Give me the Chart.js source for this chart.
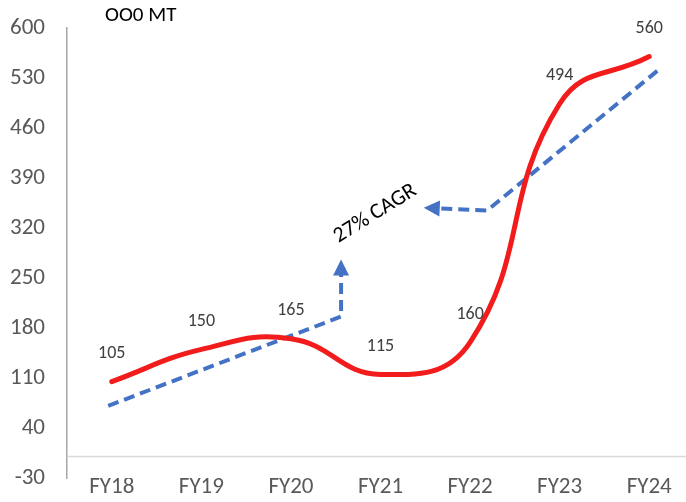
<!DOCTYPE html>
<html>
<head>
<meta charset="utf-8">
<script src="https://cdn.jsdelivr.net/npm/chart.js@4/dist/chart.umd.min.js"></script>
<style>
  html, body { margin: 0; padding: 0; background: #fff; overflow: hidden; }
  #wrap { width: 694px; height: 502px; }
</style>
</head>
<body>
<div id="wrap"><canvas id="c" width="694" height="502"></canvas></div>
<script>
// Production volume by fiscal year ('000 MT)
const categories = ['FY18', 'FY19', 'FY20', 'FY21', 'FY22', 'FY23', 'FY24'];
const volumes = [105, 150, 165, 115, 160, 494, 560];
const yTicks = [-30, 40, 110, 180, 250, 320, 390, 460, 530, 600];

// Dashed trend arrows pointing at the CAGR callout (x in category units, y in '000 MT);
// the last point of each is the base of its arrowhead
const trendArrowLow = [{ x: -0.04, y: 71 }, { x: 2.56, y: 196 }, { x: 2.56, y: 255 }];
const trendArrowHigh = [{ x: 6.09, y: 540 }, { x: 4.19, y: 344.5 }, { x: 3.65, y: 347.5 }];
const cagrLabel = { text: '27% CAGR', x: 2.94, y: 340, angle: -32 };
const unitTitle = 'OO0 MT';

const FONT = "Carlito, 'Liberation Sans', Arial, sans-serif";
const BLUE = '#4472c4';

const decorations = {
  id: 'decorations',
  beforeDatasetsDraw(chart) {
    // horizontal line at zero
    const { ctx, chartArea, scales } = chart;
    const y0 = scales.y.getPixelForValue(0);
    ctx.save();
    ctx.strokeStyle = '#d9d9d9';
    ctx.lineWidth = 1.5;
    ctx.beginPath();
    ctx.moveTo(chartArea.left, y0);
    ctx.lineTo(chartArea.right, y0);
    ctx.stroke();
    ctx.restore();
  },
  afterDatasetsDraw(chart) {
    const { ctx, scales } = chart;
    const y = scales.y, xa = scales.xa;

    // arrowheads continuing from the end of the trend arrows
    chart.data.datasets.forEach((ds, i) => {
      if (!ds.arrow) return;
      const pts = chart.getDatasetMeta(i).data;
      const a = pts[pts.length - 2], b = pts[pts.length - 1];
      const ang = Math.atan2(b.y - a.y, b.x - a.x);
      const len = 15, half = 8;
      ctx.save();
      ctx.translate(b.x, b.y);
      ctx.rotate(ang);
      ctx.fillStyle = BLUE;
      ctx.beginPath();
      ctx.moveTo(len, 0);
      ctx.lineTo(-1, -half);
      ctx.lineTo(-1, half);
      ctx.closePath();
      ctx.fill();
      ctx.restore();
    });

    // value labels above the volume line
    const meta = chart.getDatasetMeta(0);
    ctx.save();
    ctx.font = '18px ' + FONT;
    ctx.fillStyle = '#404040';
    ctx.textAlign = 'center';
    ctx.textBaseline = 'middle';
    meta.data.forEach((p, i) => {
      ctx.fillText(String(volumes[i]), p.x, p.y - 28);
    });
    ctx.restore();

    // CAGR callout
    ctx.save();
    ctx.translate(xa.getPixelForValue(cagrLabel.x), y.getPixelForValue(cagrLabel.y));
    ctx.rotate(cagrLabel.angle * Math.PI / 180);
    ctx.font = '22px ' + FONT;
    ctx.fillStyle = '#000';
    ctx.textAlign = 'center';
    ctx.textBaseline = 'middle';
    ctx.fillText(cagrLabel.text, 0, 0);
    ctx.restore();

    // unit title
    ctx.save();
    ctx.font = '21px ' + FONT;
    ctx.fillStyle = '#000';
    ctx.textAlign = 'left';
    ctx.textBaseline = 'middle';
    ctx.fillText(unitTitle, 105, 16);
    ctx.restore();
  }
};

new Chart(document.getElementById('c'), {
  type: 'line',
  data: {
    labels: categories,
    datasets: [
      {
        data: volumes,
        xAxisID: 'x',
        borderColor: '#f21c1c',
        borderWidth: 5,
        tension: 0.45,
        pointRadius: 0,
        borderCapStyle: 'round',
        fill: false,
        order: 0
      },
      {
        data: trendArrowLow,
        xAxisID: 'xa',
        arrow: true,
        borderColor: BLUE,
        borderWidth: 4,
        borderDash: [11, 6],
        tension: 0,
        pointRadius: 0,
        fill: false,
        order: 1
      },
      {
        data: trendArrowHigh,
        xAxisID: 'xa',
        arrow: true,
        borderColor: BLUE,
        borderWidth: 4,
        borderDash: [11, 6],
        tension: 0,
        pointRadius: 0,
        fill: false,
        order: 1
      }
    ]
  },
  options: {
    responsive: false,
    animation: false,
    clip: false,
    layout: { padding: { top: 28, right: 0, bottom: 0, left: 0 } },
    plugins: { legend: { display: false }, tooltip: { enabled: false } },
    scales: {
      x: {
        type: 'category',
        offset: true,
        grid: { display: false, drawTicks: false },
        border: { display: false },
        ticks: { color: '#595959', font: { family: FONT, size: 23 }, padding: -5, maxRotation: 0 },
        afterFit(s) { s.height = 24; }
      },
      xa: {
        type: 'linear',
        display: false,
        min: -0.5,
        max: 6.5
      },
      y: {
        min: -30,
        max: 600,
        afterBuildTicks(s) { s.ticks = yTicks.map(v => ({ value: v })); },
        afterFit(s) {
          s.width = 67;
          s.paddingTop = 0;
          s.paddingBottom = 0;
        },
        grid: { display: false, drawTicks: false },
        border: { display: true, color: '#a6a6a6', width: 1.5 },
        ticks: { color: '#595959', font: { family: FONT, size: 23 }, padding: 22 }
      }
    }
  },
  plugins: [decorations]
});
</script>
</body>
</html>
